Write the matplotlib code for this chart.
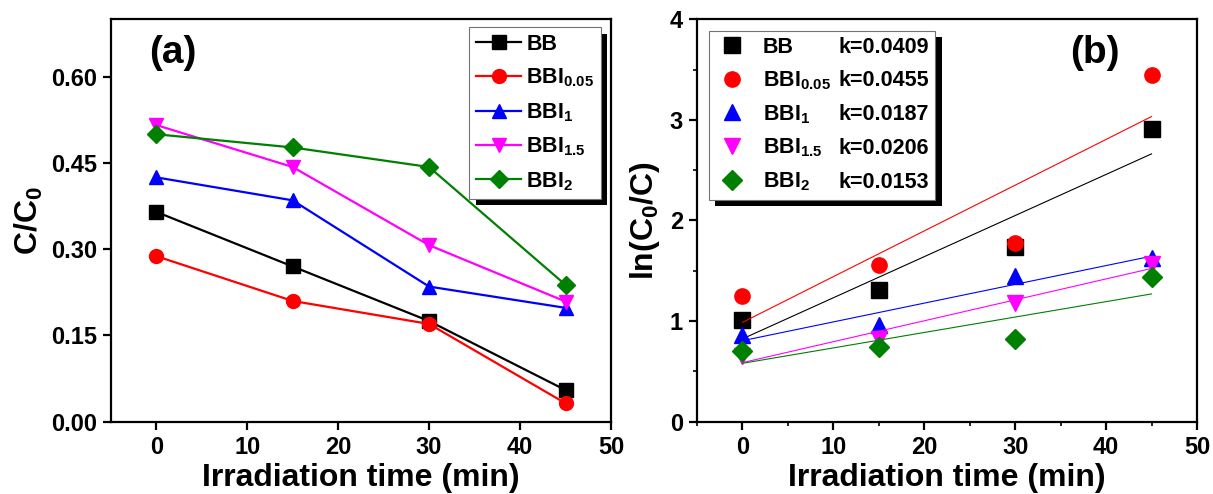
import numpy as np
import matplotlib
matplotlib.use("Agg")
import matplotlib.pyplot as plt
import matplotlib.patheffects as pe
from matplotlib.lines import Line2D

plt.rcParams["font.family"] = ["Liberation Sans", "DejaVu Sans"]
plt.rcParams["font.weight"] = "bold"
plt.rcParams["mathtext.fontset"] = "custom"
plt.rcParams["mathtext.rm"] = "Liberation Sans:bold"
plt.rcParams["mathtext.it"] = "Liberation Sans:bold"
plt.rcParams["mathtext.bf"] = "Liberation Sans:bold"

# irradiation times (min)
t = [0, 15, 30, 45]

names  = ["BB", "BBI$_{0.05}$", "BBI$_1$", "BBI$_{1.5}$", "BBI$_2$"]
colors = ["black", "red", "blue", "magenta", "green"]
marks  = ["s", "o", "^", "v", "D"]
k_txt  = ["k=0.0409", "k=0.0455", "k=0.0187", "k=0.0206", "k=0.0153"]

# (a) C/C0
c_BB    = [0.365, 0.270, 0.175, 0.055]
c_BBI05 = [0.288, 0.210, 0.170, 0.032]
c_BBI1  = [0.425, 0.385, 0.235, 0.198]
c_BBI15 = [0.516, 0.443, 0.307, 0.209]
c_BBI2  = [0.500, 0.477, 0.443, 0.238]

# (b) ln(C0/C)
l_BB    = [1.01, 1.31, 1.74, 2.91]
l_BBI05 = [1.25, 1.56, 1.78, 3.45]
l_BBI1  = [0.86, 0.96, 1.45, 1.63]
l_BBI15 = [0.65, 0.82, 1.18, 1.57]
l_BBI2  = [0.70, 0.74, 0.82, 1.44]

cdat = [c_BB, c_BBI05, c_BBI1, c_BBI15, c_BBI2]
ldat = [l_BB, l_BBI05, l_BBI1, l_BBI15, l_BBI2]

fig = plt.figure(figsize=(12.13, 4.94), dpi=100)
ax1 = fig.add_axes([0.0913, 0.1464, 0.4124, 0.8146])
ax2 = fig.add_axes([0.5746, 0.1464, 0.4122, 0.8146])

fs_tick = 17
fs_lab  = 23
fs_leg  = 15.5
shadow = [pe.SimplePatchShadow(offset=(4.5, -4.5), shadow_rgbFace="black", alpha=1), pe.Normal()]

# ---- panel (a)
for y, nm, c, m in zip(cdat, names, colors, marks):
    ax1.plot(t, y, color=c, marker=m, ms=10 if m != "D" else 9, lw=1.6, label=nm)
ax1.set_xlim(-5, 50)
ax1.set_ylim(0, 0.70)
ax1.set_xticks([0, 10, 20, 30, 40, 50])
ax1.set_yticks([0, 0.15, 0.30, 0.45, 0.60])
ax1.set_yticklabels(["%.2f" % v for v in [0, 0.15, 0.30, 0.45, 0.60]])
ax1.set_xlabel("Irradiation time (min)", fontsize=fs_lab, fontweight="bold", labelpad=3)
ax1.set_ylabel("C/C$_0$", fontsize=fs_lab, fontweight="bold", labelpad=4)
ax1.text(0.124, 0.915, "(a)", transform=ax1.transAxes, fontsize=28, fontweight="bold",
         ha="center", va="center")
leg1 = ax1.legend(loc="upper right", bbox_to_anchor=(0.98, 0.98), fontsize=fs_leg, frameon=True,
                  fancybox=False, framealpha=1, edgecolor="0.45", handlelength=2.1,
                  handletextpad=0.25, labelspacing=0.55, borderpad=0.3, borderaxespad=0.0)
leg1.get_frame().set_linewidth(0.8)
leg1.get_frame().set_path_effects(shadow)

# ---- panel (b)
for y, nm, c, m in zip(ldat, names, colors, marks):
    ax2.plot(t, y, ls="none", color=c, marker=m, ms=11 if m != "D" else 10)
    p = np.polyfit(t, y, 1)
    ax2.plot(t, np.polyval(p, t), color=c, lw=0.8)
ax2.set_xlim(-5, 50)
ax2.set_ylim(0, 4)
ax2.set_xticks([0, 10, 20, 30, 40, 50])
ax2.set_xticks([-5, 5, 15, 25, 35, 45], minor=True)
ax2.set_yticks([0, 1, 2, 3, 4])
ax2.set_yticks([0.5, 1.5, 2.5, 3.5], minor=True)
ax2.set_xlabel("Irradiation time (min)", fontsize=fs_lab, fontweight="bold", labelpad=3)
ax2.set_ylabel("ln(C$_0$/C)", fontsize=fs_lab, fontweight="bold", labelpad=6)
ax2.text(0.796, 0.915, "(b)", transform=ax2.transAxes, fontsize=28, fontweight="bold",
         ha="center", va="center")

handles = [Line2D([], [], ls="none", color=c, marker=m, ms=11 if m != "D" else 10)
           for c, m in zip(colors, marks)]
blank = [Line2D([], [], ls="none") for _ in k_txt]
leg2 = ax2.legend(handles + blank, names + k_txt, ncol=2, loc="upper left",
                  bbox_to_anchor=(0.024, 0.972), fontsize=fs_leg, frameon=True, fancybox=False,
                  framealpha=1, edgecolor="0.45", handlelength=1.5, handletextpad=0.7,
                  columnspacing=-1.85, labelspacing=0.52, borderpad=0.3, borderaxespad=0.0)
leg2.get_frame().set_linewidth(0.8)
leg2.get_frame().set_path_effects(shadow)

for ax in (ax1, ax2):
    for s in ax.spines.values():
        s.set_linewidth(1.6)
    ax.tick_params(axis="both", which="major", direction="out", length=6, width=1.6,
                   labelsize=fs_tick, pad=4, top=False, right=False)
    ax.tick_params(axis="both", which="minor", direction="out", length=3, width=1.2,
                   top=False, right=False)
    for lb in ax.get_xticklabels() + ax.get_yticklabels():
        lb.set_fontweight("bold")

# k values: the legend's second column only keeps the spacing; the text is
# redrawn on the baseline of each name row
fig.canvas.draw()
txts = leg2.get_texts()
for i in range(len(names)):
    nt, kt = txts[i], txts[len(names) + i]
    xk = kt.get_transform().transform(kt.get_position())[0]
    yb = nt.get_transform().transform(nt.get_position())[1]
    kt.set_visible(False)
    fig.text(xk, yb, k_txt[i], transform=None, fontsize=fs_leg, fontweight="bold",
             ha="left", va="baseline", zorder=10)

fig.savefig("out.png", dpi=100)
